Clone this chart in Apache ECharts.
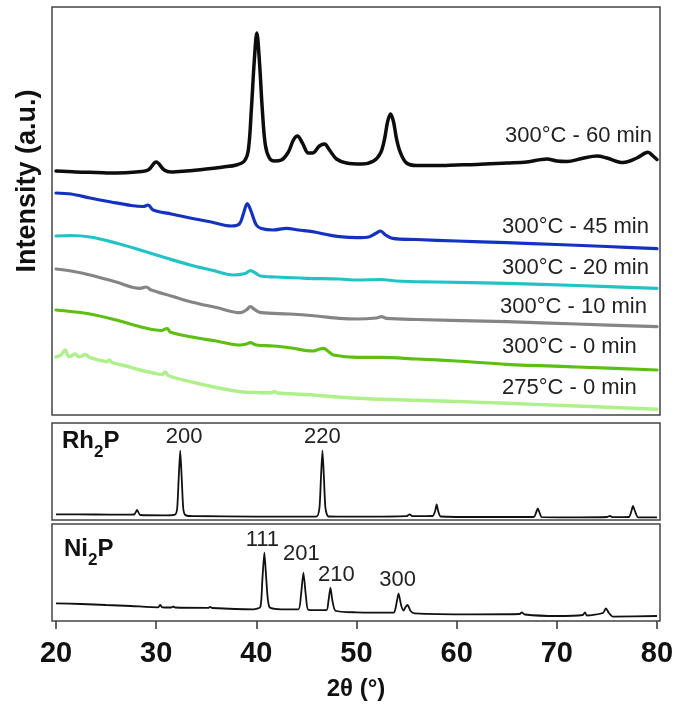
<!DOCTYPE html>
<html><head><meta charset="utf-8">
<script src="https://cdn.jsdelivr.net/npm/echarts@6/dist/echarts.min.js"></script>
<style>html,body{margin:0;padding:0;background:#fff}#c{width:677px;height:706px}</style>
</head><body><div id="c"></div>
<script>
// ---------- DATA ----------
const xTicks = [20, 30, 40, 50, 60, 70, 80];
const traceNames = ['300°C - 60 min', '300°C - 45 min', '300°C - 20 min', '300°C - 10 min', '300°C - 0 min', '275°C - 0 min'];

const t60 = [[20.0,244],[22,243],[24,242.5],[26,242],[28,243],[29.2,245],[30.0,253],[30.8,245],[31.5,243],[33,244],[35,246],[36.7,248],[38.0,250],[38.8,254],[39.2,265],[39.5,305],[39.8,355],[40.05,382],[40.3,355],[40.6,305],[40.9,270],[41.3,257],[41.8,254],[42.5,255],[43.2,263],[43.7,275],[44.1,279],[44.6,272],[45.2,262],[45.6,262],[46.3,269],[46.8,271],[47.3,265],[48.0,256],[49.0,252],[50.5,251],[51.7,254],[52.4,262],[52.8,276],[53.1,293],[53.4,301],[53.7,293],[54.0,276],[54.4,262],[55.0,252],[56.0,249.5],[58,249.5],[60,250],[62,250.5],[65,252],[67,253],[69.0,256],[70,254],[71.0,253.5],[72.5,256.5],[74.0,259],[75,257],[76.6,252.5],[78,257],[79.1,262.7],[79.6,259],[80.0,255.5]];
const t45 = [[20.0,222],[21.5,221],[23.4,217],[25.5,213],[27.5,209.5],[28.7,208.5],[29.2,210],[29.7,205],[31.5,201],[33.4,197],[35.5,193],[37.5,189],[38.3,191],[38.7,201],[39.1,211.5],[39.5,203],[40.0,190],[40.5,186.5],[41.7,185],[43.0,186.7],[44.2,185],[45.6,183.3],[47,180.5],[48.3,178.3],[50.1,177.3],[51.3,178.3],[52.0,182],[52.4,184],[52.9,180],[53.6,176.7],[56,175.5],[60,174],[65,172.3],[70,170.5],[75,168.5],[80,166.3]];
const t20 = [[20.0,179],[21.5,179.5],[23.4,178],[26,172],[28.4,165],[31,157],[33.4,150],[35.5,145],[37.7,140],[38.9,141.5],[39.4,144.3],[39.9,142],[40.4,139],[42,138],[45.0,136.7],[48.3,136],[50.1,135],[52.5,135.5],[54,134],[58,133],[65,131.7],[72,129.5],[80,126.7]];
const t10 = [[20,146],[21.5,144],[23.4,140],[26,133],[28.4,126.7],[29.0,128],[29.5,125],[31.5,119],[33.4,113.3],[36,107.5],[38.4,102.3],[39.0,105],[39.4,108.3],[39.9,105],[40.5,102.3],[43.3,101],[46,99],[48.3,96.7],[50.1,96],[52.0,97],[52.5,98.3],[53.0,96.7],[56,95.5],[65,93.3],[72,91],[80,88.3]];
const t0 = [[20,105],[21.5,103.5],[23.4,101],[26,95],[28.4,88.3],[30.5,84.5],[31.1,86.5],[31.4,83],[33.4,78.3],[36,74],[38.4,70],[39.0,71],[39.4,72.3],[40.0,70],[41.7,69],[43.5,67],[45.6,64],[46.2,65.5],[46.7,66.7],[47.2,63.5],[47.7,60],[50.1,57.7],[52.5,57.7],[56,56],[60,54],[65,50.7],[72,48],[80,45]];
const t275 = [[20.0,58],[20.5,60],[20.9,65],[21.3,58.3],[21.6,59.5],[21.9,61],[22.3,58.3],[22.6,59],[22.9,60.5],[23.4,57.3],[24.5,54.5],[25.1,53.3],[25.3,55],[25.6,52.5],[27,49],[28.4,45],[30.0,41.5],[30.6,40.5],[30.9,43],[31.2,39.5],[33.4,33.3],[36,27.5],[38.4,23.3],[40,22.5],[41.5,22.3],[41.8,23.5],[42.1,22],[45,20.5],[50.1,16.7],[55,15],[60,13.5],[65,11.7],[72,9],[80,5.7]];

const rh2p = [[20,5.7],[24,5.5],[26.7,5.3],[27.8,5.5],[28.1,10],[28.4,5],[31.0,4.7],[31.9,5.5],[32.1,12],[32.25,42],[32.4,69.3],[32.55,42],[32.7,12],[32.9,5],[33.5,4],[40,3.3],[46.0,3.5],[46.3,12],[46.45,42],[46.6,69.3],[46.75,42],[46.9,12],[47.2,3.5],[50,3.3],[55.0,3.8],[55.3,5.7],[55.6,3.8],[57.6,4],[57.85,9],[58.0,15.7],[58.15,9],[58.4,3.5],[63,3],[67.7,3],[67.95,8],[68.1,11.7],[68.25,8],[68.5,2.8],[72,2.7],[75.0,3],[75.3,4],[75.6,2.8],[77.2,3],[77.45,9],[77.6,14],[77.8,9],[78.1,2.7],[80,2.7]];
const ni2p = [[20,17.7],[22.5,17],[25,16],[27.5,15],[30.2,13.7],[30.4,16],[30.6,13.7],[31.5,13.5],[31.7,14.5],[31.9,13.5],[35.2,13.2],[35.4,14],[35.6,13],[39.7,11.7],[40.4,14],[40.6,41],[40.8,68.3],[41.0,41],[41.3,14],[42.5,11.7],[44.2,11.7],[44.45,25],[44.7,48.3],[44.95,25],[45.2,11.2],[47.0,10.8],[47.2,20],[47.4,33.3],[47.6,20],[47.9,10.3],[50,8.7],[53.7,8.3],[54.0,18],[54.2,27.7],[54.45,16],[54.7,10.5],[54.9,14],[55.1,16],[55.4,10],[55.8,7.7],[61.6,6.7],[66.3,7],[66.5,8.7],[66.8,6.5],[70,5],[72.6,6],[72.8,8.7],[73.0,5.5],[74.6,8],[74.9,12.7],[75.2,8],[75.6,4.3],[80,5]];

const rhPeaks = [['200', 32.4, 69.3], ['220', 46.6, 69.3]];
const niPeaks = [['111', 40.8, 68.3], ['201', 44.7, 48.3], ['210', 47.4, 33.3], ['300', 54.2, 27.7]];

// ---------- STYLE ----------
const FONT = '"Liberation Sans", Arial, Helvetica, sans-serif';
const traceColors = ['#0d0d0d', '#1432c0', '#22c3c6', '#858585', '#5cbf12', '#aef08a'];
const traceWidths = [3.5, 3.2, 3.2, 3.2, 3.2, 3.4];
const traceData = [t60, t45, t20, t10, t0, t275];
const traceLabelPos = [[505, 136], [502, 227], [502, 268], [500, 307], [502, 347], [502, 388]];
const peakLabelOffset = { '200': [4, -14], '220': [0, -14], '111': [-2, -13], '201': [-2, -19], '210': [6, -13], '300': [-1, -13] };

const chart = echarts.init(document.getElementById('c'), null, { renderer: 'canvas' });

const gridStyle = { show: true, borderColor: '#444', borderWidth: 1.5, backgroundColor: 'transparent' };
const xBase = { type: 'value', min: 19.6, max: 80.3 };

const series = [];
traceData.forEach((d, i) => {
  series.push({
    type: 'line', name: traceNames[i], data: d, xAxisIndex: 0, yAxisIndex: 0,
    showSymbol: false, smooth: 0.35,
    lineStyle: { color: traceColors[i], width: traceWidths[i], cap: 'round', join: 'round' }, silent: true, z: 10 - i
  });
});
series.push({ type: 'line', name: 'Rh2P', data: rh2p, xAxisIndex: 1, yAxisIndex: 1, showSymbol: false, smooth: 0.2,
  lineStyle: { color: '#111', width: 1.8 }, silent: true });
series.push({ type: 'line', name: 'Ni2P', data: ni2p, xAxisIndex: 2, yAxisIndex: 2, showSymbol: false, smooth: 0.2,
  lineStyle: { color: '#111', width: 1.8 }, silent: true });

chart.setOption({
  animation: false,
  backgroundColor: '#fff',
  grid: [
    Object.assign({ left: 52, top: 7, width: 608, height: 408 }, gridStyle),
    Object.assign({ left: 52, top: 423, width: 608, height: 97 }, gridStyle),
    Object.assign({ left: 52, top: 524, width: 608, height: 97 }, gridStyle)
  ],
  xAxis: [
    Object.assign({ gridIndex: 0, show: false }, xBase),
    Object.assign({ gridIndex: 1, show: false }, xBase),
    Object.assign({ gridIndex: 2, show: true,
      axisLine: { show: false },
      axisTick: { show: true, customValues: xTicks, length: 8, lineStyle: { color: '#333', width: 1.5 } },
      axisLabel: { show: true, customValues: xTicks, fontSize: 29, fontWeight: 'bold', color: '#111', fontFamily: FONT, margin: 18 },
      splitLine: { show: false },
      name: '2θ (°)', nameLocation: 'middle', nameGap: 56,
      nameTextStyle: { fontSize: 24, fontWeight: 'bold', color: '#111', fontFamily: FONT }
    }, xBase)
  ],
  yAxis: [
    { gridIndex: 0, type: 'value', min: 0, max: 408, show: false },
    { gridIndex: 1, type: 'value', min: 0, max: 97, show: false },
    { gridIndex: 2, type: 'value', min: 0, max: 97, show: false }
  ],
  series: series
});

// ---------- TEXT OVERLAYS ----------
const ctx = document.createElement('canvas').getContext('2d');
function tw(text, size, bold) { ctx.font = (bold ? 'bold ' : '') + size + 'px ' + FONT; return ctx.measureText(text).width; }

const graphics = [];
graphics.push({ type: 'text', x: 28, y: 181, rotation: Math.PI / 2,
  style: { text: 'Intensity (a.u.)', font: 'bold 27px ' + FONT, fill: '#111', textAlign: 'center', textVerticalAlign: 'middle' } });
traceNames.forEach((n, i) => {
  graphics.push({ type: 'text', x: traceLabelPos[i][0], y: traceLabelPos[i][1],
    style: { text: n, font: '22px ' + FONT, fill: '#222', textAlign: 'left', textVerticalAlign: 'middle' } });
});
function formula(a, sub, b, x, y) {
  const big = 24, small = 17;
  const w1 = tw(a, big, true), w2 = tw(sub, small, true);
  graphics.push({ type: 'text', x: x, y: y, style: { text: a, font: 'bold ' + big + 'px ' + FONT, fill: '#111', textVerticalAlign: 'middle' } });
  graphics.push({ type: 'text', x: x + w1, y: y + 11, style: { text: sub, font: 'bold ' + small + 'px ' + FONT, fill: '#111', textVerticalAlign: 'middle' } });
  graphics.push({ type: 'text', x: x + w1 + w2, y: y, style: { text: b, font: 'bold ' + big + 'px ' + FONT, fill: '#111', textVerticalAlign: 'middle' } });
}
formula('Rh', '2', 'P', 62, 441);
formula('Ni', '2', 'P', 64, 549);
function peakLabels(list, gi) {
  list.forEach(p => {
    const px = chart.convertToPixel({ xAxisIndex: gi, yAxisIndex: gi }, [p[1], p[2]]);
    const off = peakLabelOffset[p[0]] || [0, -14];
    graphics.push({ type: 'text', x: px[0] + off[0], y: px[1] + off[1],
      style: { text: p[0], font: '22px ' + FONT, fill: '#222', textAlign: 'center', textVerticalAlign: 'middle' } });
  });
}
peakLabels(rhPeaks, 1);
peakLabels(niPeaks, 2);

chart.setOption({ graphic: graphics });
</script>
</body></html>
